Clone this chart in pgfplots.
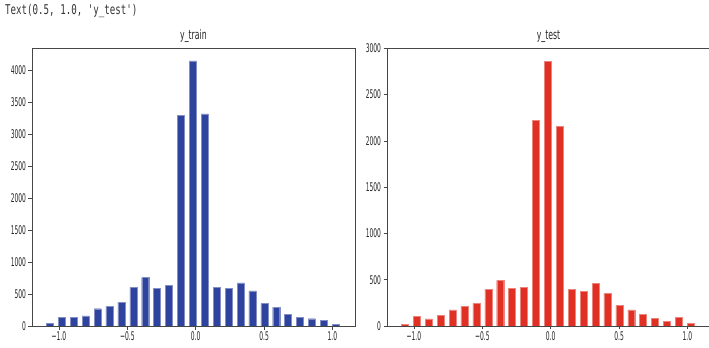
\documentclass[border=0pt]{standalone}
\usepackage{fontspec}
\usepackage{pgfplots}
\pgfplotsset{compat=1.18}
\setmainfont{DejaVu Sans}
\newfontfamily\tickfont{DejaVu Sans}[FakeStretch=0.5]
\newfontfamily\titlefont{DejaVu Sans}[FakeStretch=0.6]
\newfontfamily\monofont{DejaVu Sans Mono}[FakeStretch=0.68]
\definecolor{barblue}{RGB}{46,67,158}
\definecolor{barred}{RGB}{224,48,36}
\definecolor{spine}{RGB}{70,70,70}
\pgfplotstableread{
x train test
-1.066 40 15
-0.979 130 101
-0.892 130 76
-0.805 160 112
-0.718 270 173
-0.631 305 212
-0.543 373 245
-0.456 601 396
-0.369 756 493
-0.282 585 407
-0.195 637 417
-0.108 3300 2225
-0.021 4150 2862
0.066 3320 2156
0.153 601 396
0.241 585 371
0.328 674 464
0.415 549 356
0.502 352 223
0.589 290 173
0.676 181 126
0.763 130 79
0.850 114 54
0.937 93 90
1.024 21 29
}\histdata
\pgfplotsset{
  hstyle/.style={
    scale only axis, width=323bp, height=278bp,
    anchor=south west,
    xmin=-1.197, xmax=1.165, ymin=0,
    axis line style={spine, line width=0.8pt},
    tick style={spine, line width=0.6pt},
    tick align=outside, major tick length=3.5bp,
    xtick pos=bottom, ytick pos=left,
    xtick={-1,-0.5,0,0.5,1},
    xticklabels={−1.0,−0.5,0.0,0.5,1.0},
    scaled y ticks=false,
    /pgf/number format/1000 sep={},
    /pgf/number format/assume math mode=true,
    tick label style={font=\tickfont\fontsize{12}{13}\selectfont, text=black!85},
    yticklabel style={xshift=1bp},
    xticklabel style={yshift=1bp},
    title style={font=\titlefont\fontsize{13}{14}\selectfont, text=black!85, yshift=-4bp},
    ybar, bar width=0.051,
  }
}
\begin{document}
\begin{tikzpicture}
\useasboundingbox (0,0) rectangle (709bp,348bp);
\clip (0,0) rectangle (709bp,348bp);
\node[anchor=base west, text=black!80, inner sep=0pt] at (5bp,333bp) {\monofont\fontsize{13.5}{15}\selectfont Text(0.5, 1.0, 'y\_test')};
\begin{axis}[hstyle, at={(32bp,22bp)}, ymax=4350,
  ytick={0,500,...,4000}, title={y\_train}]
\addplot[fill=barblue, draw=barblue!60!white, line width=0.4pt] table[x=x, y=train] {\histdata};
\end{axis}
\begin{axis}[hstyle, at={(387bp,22bp)}, ymax=3003,
  ytick={0,500,...,3000}, title={y\_test}]
\addplot[fill=barred, draw=barred!60!white, line width=0.4pt] table[x=x, y=test] {\histdata};
\end{axis}
\end{tikzpicture}
\end{document}
